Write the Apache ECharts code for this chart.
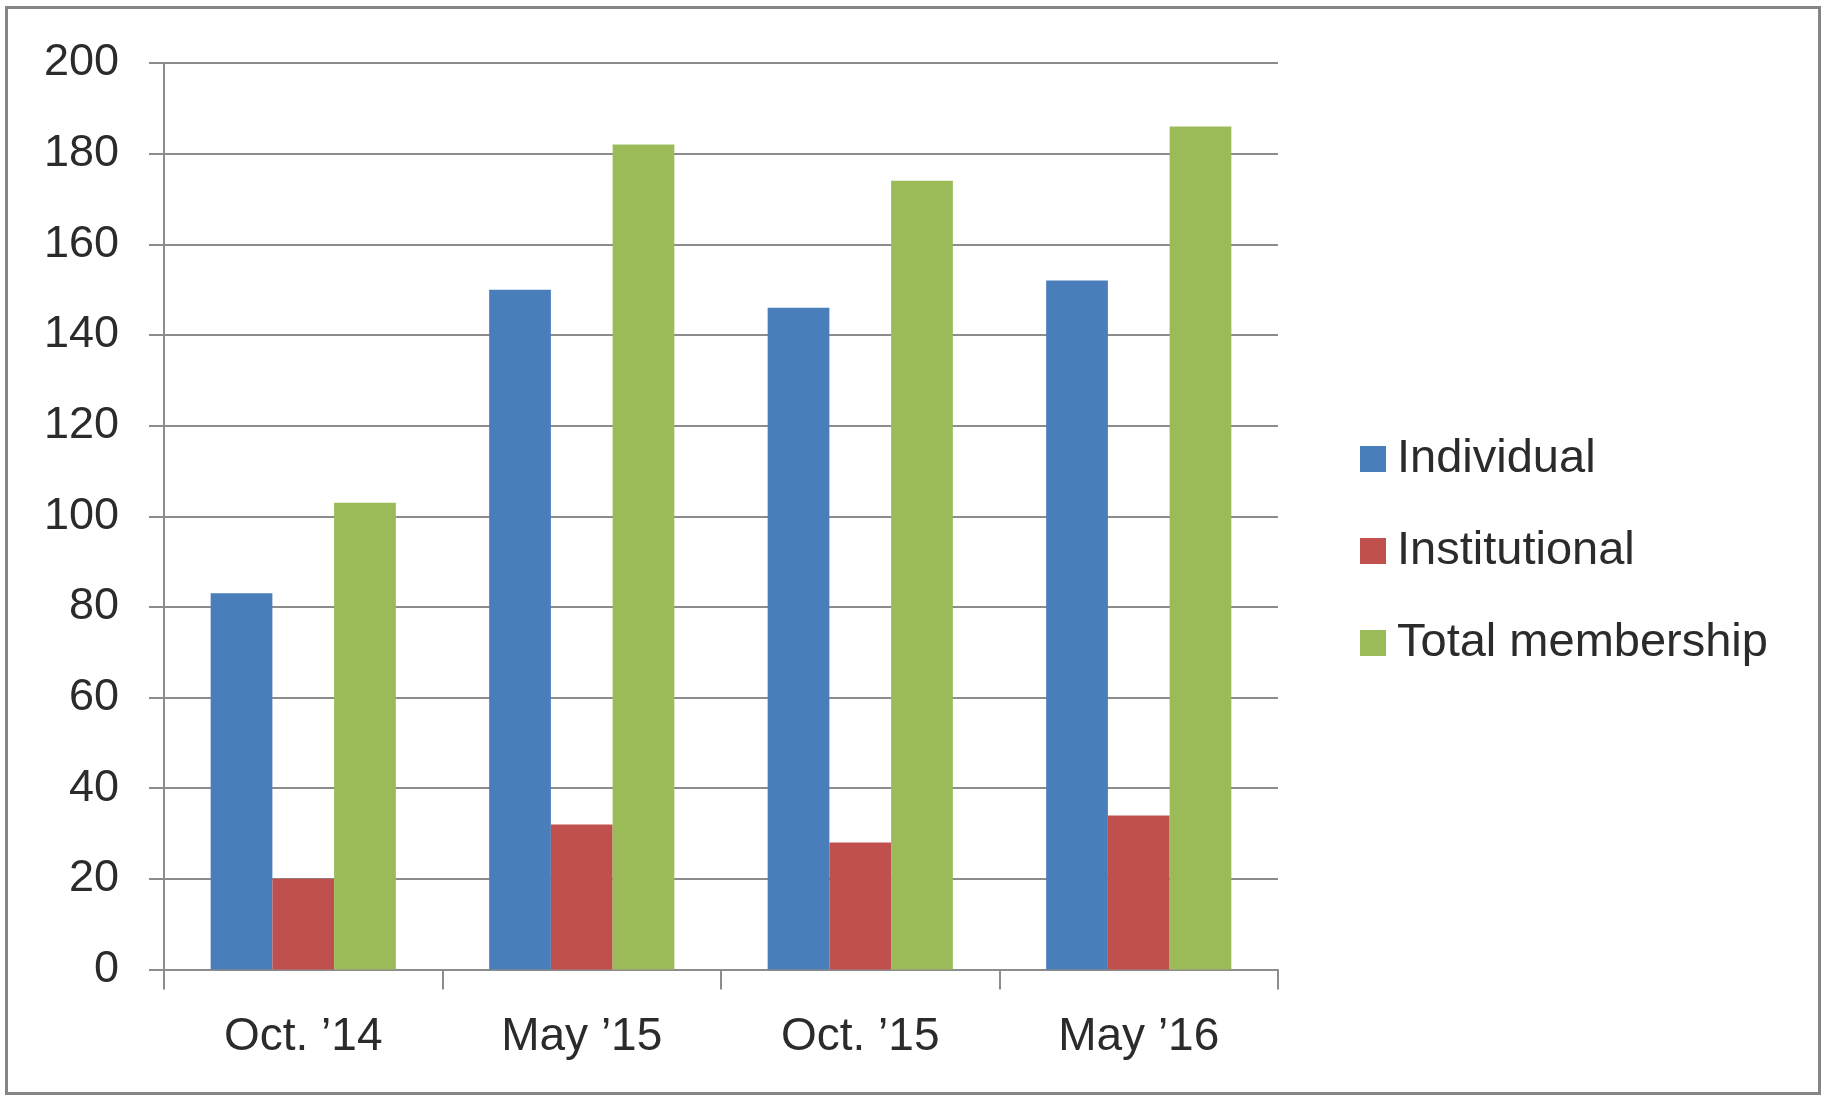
<!DOCTYPE html>
<html>
<head>
<meta charset="utf-8">
<style>
html,body{margin:0;padding:0;background:#fff;}
#chart{width:1825px;height:1096px;}
</style>
<script src="https://cdn.jsdelivr.net/npm/echarts@6/dist/echarts.min.js"></script>
</head>
<body>
<div id="chart"></div>
<script>
var categories = ["Oct. \u201914", "May \u201915", "Oct. \u201915", "May \u201916"];
var individual = [83, 150, 146, 152];
var institutional = [20, 32, 28, 34];
var totalMembership = [103, 182, 174, 186];
var seriesNames = ["Individual", "Institutional", "Total membership"];

var chart = echarts.init(document.getElementById('chart'), null, {renderer: 'canvas'});
var font = "'Liberation Sans', Arial, sans-serif";
var lineColor = '#8c8c8c';
chart.setOption({
  animation: false,
  backgroundColor: '#ffffff',
  graphic: [{
    type: 'rect',
    shape: {x: 6.5, y: 7.5, width: 1813, height: 1086},
    style: {fill: 'none', stroke: '#858585', lineWidth: 3},
    silent: true
  }],
  grid: {left: 164, right: 1825 - 1278, top: 63, bottom: 1096 - 969.5, containLabel: false},
  legend: {
    orient: 'vertical',
    left: 1360,
    top: 432,
    padding: 0,
    itemWidth: 26,
    itemHeight: 26,
    itemGap: 38,
    icon: 'rect',
    textStyle: {fontFamily: font, fontSize: 47, color: '#2b2b2b', lineHeight: 54, padding: [0, 0, 0, 6]},
    data: seriesNames
  },
  xAxis: {
    type: 'category',
    data: categories,
    axisLine: {show: true, lineStyle: {color: lineColor, width: 2}},
    axisTick: {show: true, length: 20, lineStyle: {color: lineColor, width: 2}, alignWithLabel: false},
    axisLabel: {fontFamily: font, fontSize: 46, color: '#2b2b2b', margin: 45}
  },
  yAxis: {
    type: 'value',
    min: 0,
    max: 200,
    interval: 20,
    axisLine: {show: true, lineStyle: {color: lineColor, width: 2}},
    axisTick: {show: true, length: 15, lineStyle: {color: lineColor, width: 2}},
    splitLine: {show: true, lineStyle: {color: lineColor, width: 2}},
    axisLabel: {fontFamily: font, fontSize: 45, color: '#2b2b2b', margin: 45}
  },
  series: [
    {name: seriesNames[0], type: 'bar', data: individual, itemStyle: {color: '#4a7ebb'}, barGap: '0%', barCategoryGap: '33.5%'},
    {name: seriesNames[1], type: 'bar', data: institutional, itemStyle: {color: '#c0504d'}, barGap: '0%', barCategoryGap: '33.5%'},
    {name: seriesNames[2], type: 'bar', data: totalMembership, itemStyle: {color: '#9bbb59'}, barGap: '0%', barCategoryGap: '33.5%'}
  ]
});
</script>
</body>
</html>
